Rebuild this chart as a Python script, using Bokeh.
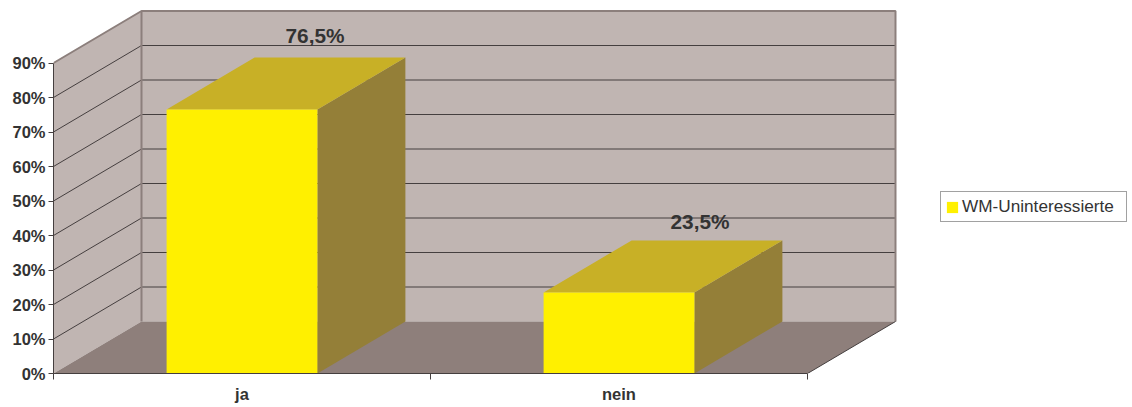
from bokeh.plotting import figure
from bokeh.models import FixedTicker, Legend, LegendItem
from bokeh.core.properties import value
from bokeh.embed import file_html
from bokeh.resources import INLINE

categories = ["ja", "nein"]
shares = [76.5, 23.5]
share_labels = ["76,5%", "23,5%"]
y_ticks = [0, 10, 20, 30, 40, 50, 60, 70, 80, 90]
y_tick_labels = ["0%", "10%", "20%", "30%", "40%", "50%", "60%", "70%", "80%", "90%"]
series_name = "WM-Uninteressierte"

# projection of the 3D depth onto the chart's units
PX_X, PX_Y = 377.0, 3.45
DX, DY = 88 / PX_X, 52 / PX_Y
Y_MAX = y_ticks[-1]
X_MAX = len(categories)
BAR_W = 0.4

WALL, FLOOR, EDGE, GRID = "#c0b5b2", "#8e7f7b", "#8c7f7c", "#453f3f"
FRONT, TOP, SIDE = "#fff000", "#c8b026", "#947f38"
TEXT = "#333333"
FONT = "Liberation Sans"

W, H = 1132, 407
LEFT, BOTTOM = 53, 34
p = figure(width=W, height=H, output_backend="svg", toolbar_location=None,
           x_range=(0, (W - LEFT) / PX_X), y_range=(0, (H - BOTTOM) / PX_Y),
           min_border_left=LEFT, min_border_bottom=BOTTOM, min_border_top=0, min_border_right=0,
           outline_line_color=None)
p.grid.visible = False

# walls and floor
p.patch([0, DX, DX, 0], [0, DY, Y_MAX + DY, Y_MAX], fill_color=WALL, line_color=None)
p.patch([DX, X_MAX + DX, X_MAX + DX, DX], [DY, DY, Y_MAX + DY, Y_MAX + DY], fill_color=WALL, line_color=None)
p.patch([0, X_MAX, X_MAX + DX, DX], [0, 0, DY, DY], fill_color=FLOOR, line_color=None)

# gridlines running along the side wall and across the back wall
for t in y_ticks[1:-1]:
    p.line([0, DX, X_MAX + DX], [t, t + DY, t + DY], line_color=GRID, line_width=1)

# wall edges
p.line([0, DX, X_MAX + DX, X_MAX + DX], [Y_MAX, Y_MAX + DY, Y_MAX + DY, DY], line_color=EDGE, line_width=2)
p.line([DX, DX], [DY, Y_MAX + DY], line_color=EDGE, line_width=2)
p.line([X_MAX, X_MAX + DX], [0, DY], line_color=GRID, line_width=1)

# bars
legend_r = None
for i, v in enumerate(shares):
    x0 = i + 0.5 - BAR_W / 2
    x1 = i + 0.5 + BAR_W / 2
    p.patch([x1, x1 + DX, x1 + DX, x1], [0, DY, v + DY, v], fill_color=SIDE, line_color=None)
    p.patch([x0, x1, x1 + DX, x0 + DX], [v, v, v + DY, v + DY], fill_color=TOP, line_color=None)
    r = p.quad(left=x0, right=x1, bottom=0, top=v, fill_color=FRONT, line_color=None)
    if legend_r is None:
        legend_r = r

# value labels
label_dx = [73, 81]
label_dy = [-74, -71]
for i, v in enumerate(shares):
    p.text([i + 0.5], [v], text=[share_labels[i]], x_offset=label_dx[i], y_offset=label_dy[i],
           text_font=value(FONT), text_font_style="bold", text_font_size="20.8px",
           text_color=TEXT, text_align="center", text_baseline="middle")

# axes
ya = p.yaxis[0]
ya.ticker = FixedTicker(ticks=y_ticks)
ya.major_label_overrides = {t: s for t, s in zip(y_ticks, y_tick_labels)}
ya.bounds = (0, Y_MAX)
ya.axis_line_color = GRID
ya.axis_line_width = 1
ya.major_tick_line_color = GRID
ya.major_tick_out = 5
ya.major_tick_in = 0
ya.minor_tick_line_color = None
ya.major_label_standoff = 3
ya.major_label_text_font = FONT
ya.major_label_text_font_style = "bold"
ya.major_label_text_font_size = "16.5px"
ya.major_label_text_color = TEXT

xa = p.xaxis[0]
centers = [i + 0.5 for i in range(len(categories))]
xa.ticker = FixedTicker(ticks=centers, minor_ticks=list(range(len(categories) + 1)))
xa.major_label_overrides = {c: s for c, s in zip(centers, categories)}
xa.bounds = (0, X_MAX)
xa.axis_line_color = GRID
xa.axis_line_width = 1
xa.major_tick_line_color = None
xa.major_tick_out = 0
xa.major_tick_in = 0
xa.minor_tick_line_color = GRID
xa.minor_tick_out = 6
xa.minor_tick_in = 0
xa.major_label_standoff = 5
xa.major_label_text_font = FONT
xa.major_label_text_font_style = "bold"
xa.major_label_text_font_size = "16.5px"
xa.major_label_text_color = TEXT

# legend
legend = Legend(items=[LegendItem(label=series_name, renderers=[legend_r])],
                location=(887, 151), margin=0, padding=4, spacing=0,
                glyph_width=14, glyph_height=14, label_standoff=3, label_width=160,
                label_text_font=FONT, label_text_font_size="17.2px", label_text_color=TEXT,
                border_line_color="#444444", border_line_width=1, background_fill_color="#ffffff",
                background_fill_alpha=1)
p.add_layout(legend, "center")

open("out.html", "w").write(file_html(p, INLINE))
